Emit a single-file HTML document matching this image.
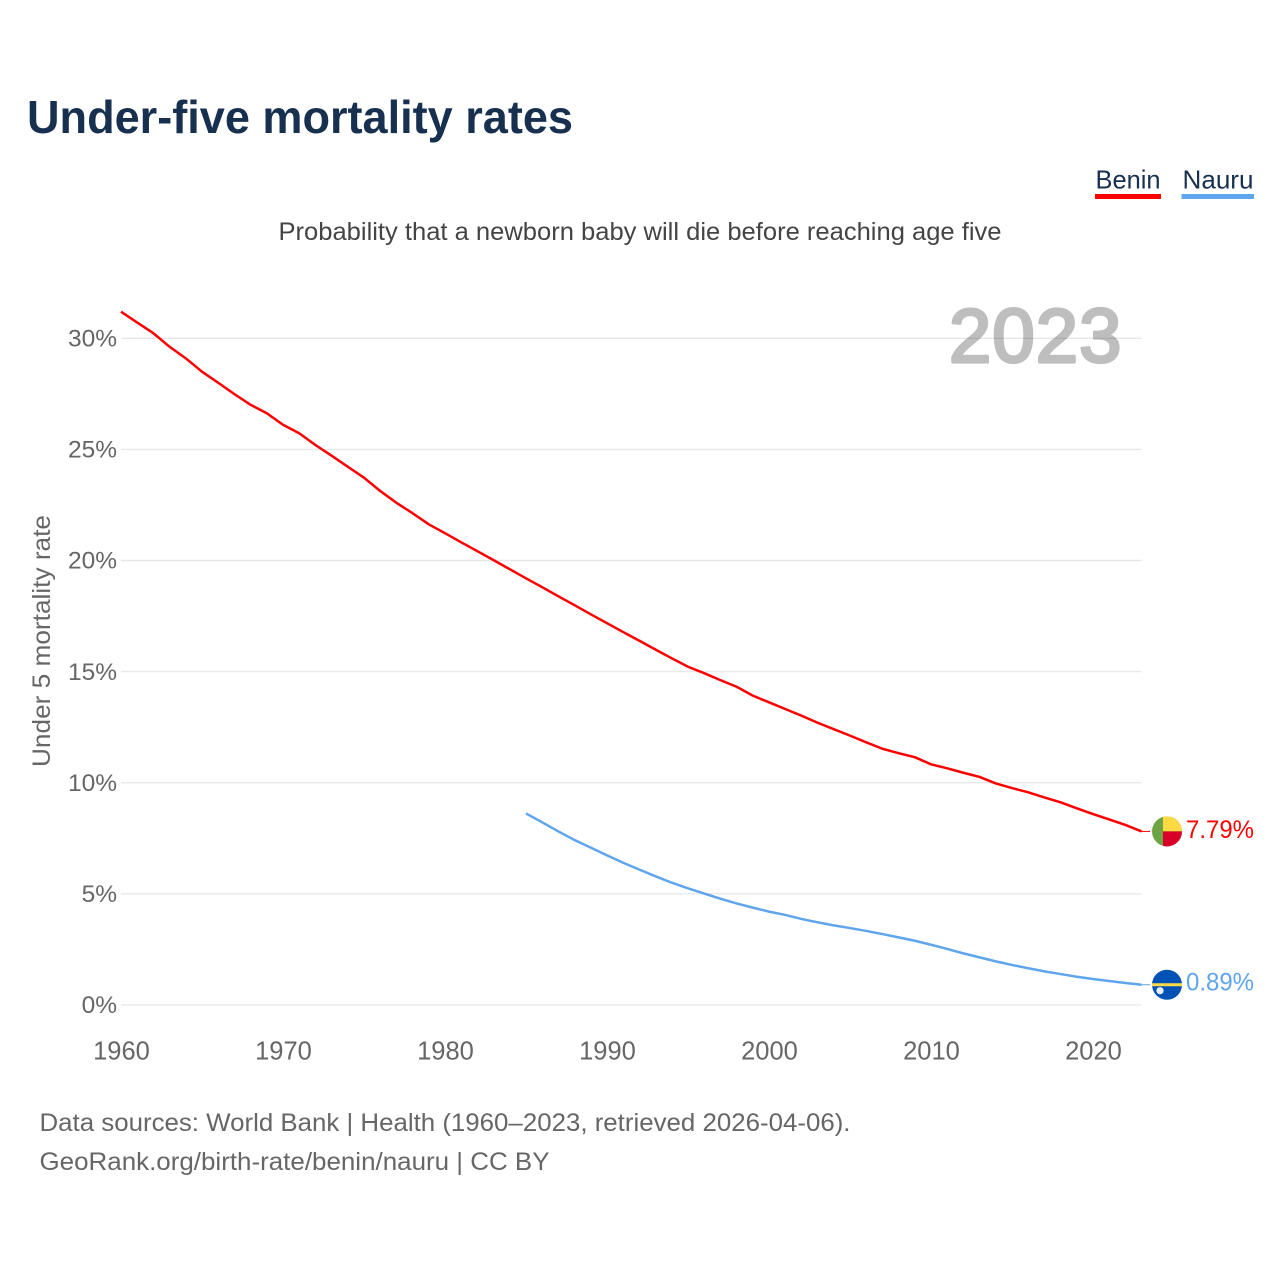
<!DOCTYPE html>
<html lang="en">
<head>
<meta charset="utf-8">
<title>Under-five mortality rates</title>
<style>
html,body{margin:0;padding:0;background:#fff;width:1280px;height:1280px;overflow:hidden}
svg{display:block;font-family:"Liberation Sans",sans-serif}
</style>
</head>
<body>
<svg id="chart" xmlns="http://www.w3.org/2000/svg" width="1280" height="1280" viewBox="0 0 1280 1280">
  <rect x="0" y="0" width="1280" height="1280" fill="#fff"/>
  <text x="27" y="133" font-size="46" font-weight="700" fill="#17304f" textLength="546" lengthAdjust="spacingAndGlyphs">Under-five mortality rates</text>
  <g>
    <g>
      <text x="1095.5" y="188.5" font-size="26" fill="#17304f" textLength="65" lengthAdjust="spacingAndGlyphs">Benin</text>
      <rect x="1095" y="194" width="66" height="5" fill="#ff0000"/>
    </g>
    <g>
      <text x="1182.5" y="188.5" font-size="26" fill="#17304f" textLength="71" lengthAdjust="spacingAndGlyphs">Nauru</text>
      <rect x="1181.5" y="194" width="72.5" height="5" fill="#5fa5ee"/>
    </g>
  </g>
  <text x="278.5" y="240" font-size="25" fill="#444" textLength="723" lengthAdjust="spacingAndGlyphs">Probability that a newborn baby will die before reaching age five</text>
  <g id="grid"></g>
  <g id="yticks"></g>
  <g id="xticks"></g>
  <text transform="translate(50,767) rotate(-90)" font-size="25" fill="#666" textLength="252" lengthAdjust="spacingAndGlyphs">Under 5 mortality rate</text>
  <text x="949" y="362" font-size="76" fill="#000" stroke="#000" stroke-width="3.2" stroke-linejoin="round" opacity="0.25" letter-spacing="1.1">2023</text>
  <path id="line-benin" fill="none" stroke="#ff0000" stroke-width="2.5" stroke-linejoin="round"/>
  <path id="line-nauru" fill="none" stroke="#5fa5ee" stroke-width="2.5" stroke-linejoin="round"/>
  <g id="end-benin">
    <line x1="1141.6" x2="1150" y1="0" y2="0" stroke="#ff0000" stroke-width="1"/>
    <g>
      <circle cx="1167" cy="0" r="15" fill="#6da544"/>
      <path d="M1163 0V-14.5A15 15 0 0 1 1182 0Z" fill="#ffda44"/>
      <path d="M1163 0H1182A15 15 0 0 1 1163 14.5Z" fill="#d80027"/>
    </g>
    <text id="label-benin" x="1254" y="6.5" text-anchor="end" font-size="25" fill="#ff0000" textLength="68" lengthAdjust="spacingAndGlyphs"></text>
  </g>
  <g id="end-nauru">
    <line x1="1141.6" x2="1150" y1="0" y2="0" stroke="#5fa5ee" stroke-width="1"/>
    <g>
      <circle cx="1167" cy="0" r="15" fill="#0052b4"/>
      <rect x="1152" y="-1.5" width="30" height="3" fill="#ffda44"/>
      <circle cx="1160" cy="6" r="3.6" fill="#e6eef8"/>
    </g>
    <text id="label-nauru" x="1254" y="6" text-anchor="end" font-size="25" fill="#5fa5ee" textLength="68" lengthAdjust="spacingAndGlyphs"></text>
  </g>
  <text x="39.5" y="1131" font-size="25" fill="#666" textLength="811" lengthAdjust="spacingAndGlyphs">Data sources: World Bank | Health (1960–2023, retrieved 2026-04-06).</text>
  <text x="39.5" y="1170" font-size="25" fill="#666" textLength="510" lengthAdjust="spacingAndGlyphs">GeoRank.org/birth-rate/benin/nauru | CC BY</text>
</svg>
<script>
const years = [1960,1961,1962,1963,1964,1965,1966,1967,1968,1969,1970,1971,1972,1973,1974,1975,1976,1977,1978,1979,1980,1981,1982,1983,1984,1985,1986,1987,1988,1989,1990,1991,1992,1993,1994,1995,1996,1997,1998,1999,2000,2001,2002,2003,2004,2005,2006,2007,2008,2009,2010,2011,2012,2013,2014,2015,2016,2017,2018,2019,2020,2021,2022,2023];
const beninValues = [31.18,30.69,30.21,29.60,29.08,28.48,27.98,27.47,26.99,26.61,26.09,25.71,25.18,24.70,24.20,23.71,23.11,22.58,22.11,21.61,21.21,20.80,20.40,20.00,19.59,19.18,18.78,18.37,17.97,17.56,17.16,16.76,16.37,15.97,15.58,15.20,14.91,14.60,14.30,13.90,13.60,13.30,13.00,12.68,12.39,12.10,11.80,11.51,11.31,11.13,10.81,10.63,10.43,10.24,9.95,9.74,9.55,9.32,9.10,8.83,8.57,8.33,8.08,7.79];
const nauruValues = [null,null,null,null,null,null,null,null,null,null,null,null,null,null,null,null,null,null,null,null,null,null,null,null,null,8.60,8.20,7.79,7.40,7.06,6.71,6.38,6.07,5.77,5.48,5.23,4.99,4.76,4.55,4.36,4.18,4.03,3.85,3.70,3.56,3.44,3.31,3.17,3.02,2.87,2.69,2.50,2.30,2.12,1.94,1.78,1.63,1.49,1.37,1.25,1.15,1.06,0.97,0.89];
const yTickValues = [0,5,10,15,20,25,30];
const xTickValues = [1960,1970,1980,1990,2000,2010,2020];

const SVG_NS = 'http://www.w3.org/2000/svg';
function xScale(year) { return 121 + (year - 1960) * (1141.6 - 121) / 63; }
function yScale(value) { return 1004.5 - value * 22.22; }

const gridGroup = document.getElementById('grid');
const yTickGroup = document.getElementById('yticks');
const xTickGroup = document.getElementById('xticks');

yTickValues.forEach(function (tick) {
  const gridLine = document.createElementNS(SVG_NS, 'line');
  
  
  gridLine.setAttribute('x1', xScale(1960));
  gridLine.setAttribute('x2', xScale(2023));
  gridLine.setAttribute('y1', yScale(tick) + 0.4);
  gridLine.setAttribute('y2', yScale(tick) + 0.4);
  gridLine.setAttribute('stroke', '#e8e8e8');
  gridLine.setAttribute('stroke-width', '1.4');
  gridGroup.appendChild(gridLine);

  const label = document.createElementNS(SVG_NS, 'text');
  
  
  label.setAttribute('x', 117);
  label.setAttribute('y', yScale(tick) + 8.6);
  label.setAttribute('text-anchor', 'end');
  label.setAttribute('font-size', '24.5');
  label.setAttribute('fill', '#666');
  label.textContent = tick + '%';
  yTickGroup.appendChild(label);
});

xTickValues.forEach(function (tick) {
  const label = document.createElementNS(SVG_NS, 'text');
  
  
  label.setAttribute('x', xScale(tick) + 0.5);
  label.setAttribute('y', 1059.5);
  label.setAttribute('text-anchor', 'middle');
  label.setAttribute('font-size', '25.5');
  label.setAttribute('fill', '#666');
  label.textContent = tick;
  xTickGroup.appendChild(label);
});

function buildPath(values) {
  let d = '';
  values.forEach(function (value, i) {
    if (value === null) return;
    d += (d ? 'L' : 'M') + xScale(years[i]).toFixed(2) + ' ' + yScale(value).toFixed(2);
  });
  return d;
}

document.getElementById('line-benin').setAttribute('d', buildPath(beninValues));
document.getElementById('line-nauru').setAttribute('d', buildPath(nauruValues));

const lastBenin = beninValues[beninValues.length - 1];
const lastNauru = nauruValues[nauruValues.length - 1];
document.getElementById('end-benin').setAttribute('transform', 'translate(0,' + yScale(lastBenin) + ')');
document.getElementById('end-nauru').setAttribute('transform', 'translate(0,' + yScale(lastNauru) + ')');
document.getElementById('label-benin').textContent = lastBenin.toFixed(2) + '%';
document.getElementById('label-nauru').textContent = lastNauru.toFixed(2) + '%';
</script>
</body>
</html>
